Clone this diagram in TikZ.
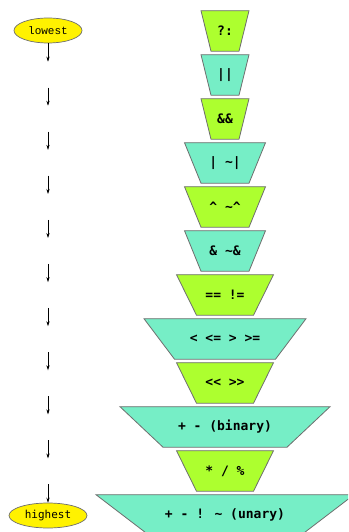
\documentclass[tikz,border=0pt]{standalone}
\usepackage{fontspec}
\newfontfamily\opfont{DejaVu Sans Mono}
\newfontfamily\lowfont{Liberation Mono}
\usetikzlibrary{arrows.meta}
\definecolor{opgreen}{HTML}{ADFF2F}
\definecolor{opaqua}{HTML}{76EEC6}
\definecolor{edgegray}{HTML}{6E6E6E}
\tikzset{
  trapgreen/.style={fill=opgreen, draw=edgegray, line width=0.8pt},
  trapaqua/.style={fill=opaqua, draw=edgegray, line width=0.8pt},
  optext/.style={font=\opfont\bfseries\fontsize{13}{15}\selectfont, inner sep=0pt},
  endpoint/.style={ellipse, fill=yellow, draw=edgegray, line width=0.7pt, minimum height=25pt, inner sep=0pt},
  rowmark/.style={inner sep=0pt, minimum height=25.5pt, minimum width=1pt, draw=none},
  orderarrow/.style={-{Stealth[length=5pt,width=3.2pt]}, line width=0.5pt, black},
}
\usetikzlibrary{shapes.geometric}
\newcommand\optrap[6]{%
  \pgfmathsetmacro\ty{10.7+44*#2}%
  \pgfmathsetmacro\by{\ty+40.5}%
  \pgfmathsetmacro\cy{\ty+20.25}%
  \draw[#5] ({225-#3/2},\ty) -- ({225+#3/2},\ty) -- ({225+#4/2},\by) -- ({225-#4/2},\by) -- cycle;
  \node[optext] (#1) at (225,\cy) {#6};
}
\begin{document}
\begin{tikzpicture}[x=1pt,y=-1pt]
\useasboundingbox (0,0) rectangle (348,532);
\clip (0,0) rectangle (348,532);
% operator trapezoids
\optrap{t1}{0}{48}{28}{trapgreen}{?:}
\optrap{t2}{1}{48}{28}{trapaqua}{||}
\optrap{t3}{2}{48}{28}{trapgreen}{\&\&}
\optrap{t4}{3}{81}{48}{trapaqua}{| \textasciitilde|}
\optrap{t5}{4}{81}{48}{trapgreen}{\textasciicircum{} \textasciitilde\textasciicircum}
\optrap{t6}{5}{81}{48}{trapaqua}{\& \textasciitilde\&}
\optrap{t7}{6}{97}{57}{trapgreen}{== !=}
\optrap{t8}{7}{162}{101}{trapaqua}{< <= > >=}
\optrap{t9}{8}{97}{57}{trapgreen}{<{}< >{}>}
\optrap{t10}{9}{210}{124}{trapaqua}{+ - (binary)}
\optrap{t11}{10}{97}{57}{trapgreen}{* / \%}
\optrap{t12}{11}{258}{152}{trapaqua}{+ - ! \textasciitilde{} (unary)}
% left column
\node[endpoint, minimum width=68pt, font=\lowfont\fontsize{11}{13}\selectfont] (low) at (48,30.5) {lowest};
\node[endpoint, minimum width=78pt, font=\opfont\fontsize{11}{13}\selectfont] (high) at (48,515.5) {highest};
\foreach \k in {1,...,10} {
  \node[rowmark] (r\k) at (48,{30.5+44.09*\k}) {};
}
\draw[orderarrow] (low.south) -- (r1.north);
\foreach \a/\b in {1/2,2/3,3/4,4/5,5/6,6/7,7/8,8/9,9/10} {
  \draw[orderarrow] (r\a.south) -- (r\b.north);
}
\draw[orderarrow] (r10.south) -- (high.north);
\end{tikzpicture}
\end{document}
